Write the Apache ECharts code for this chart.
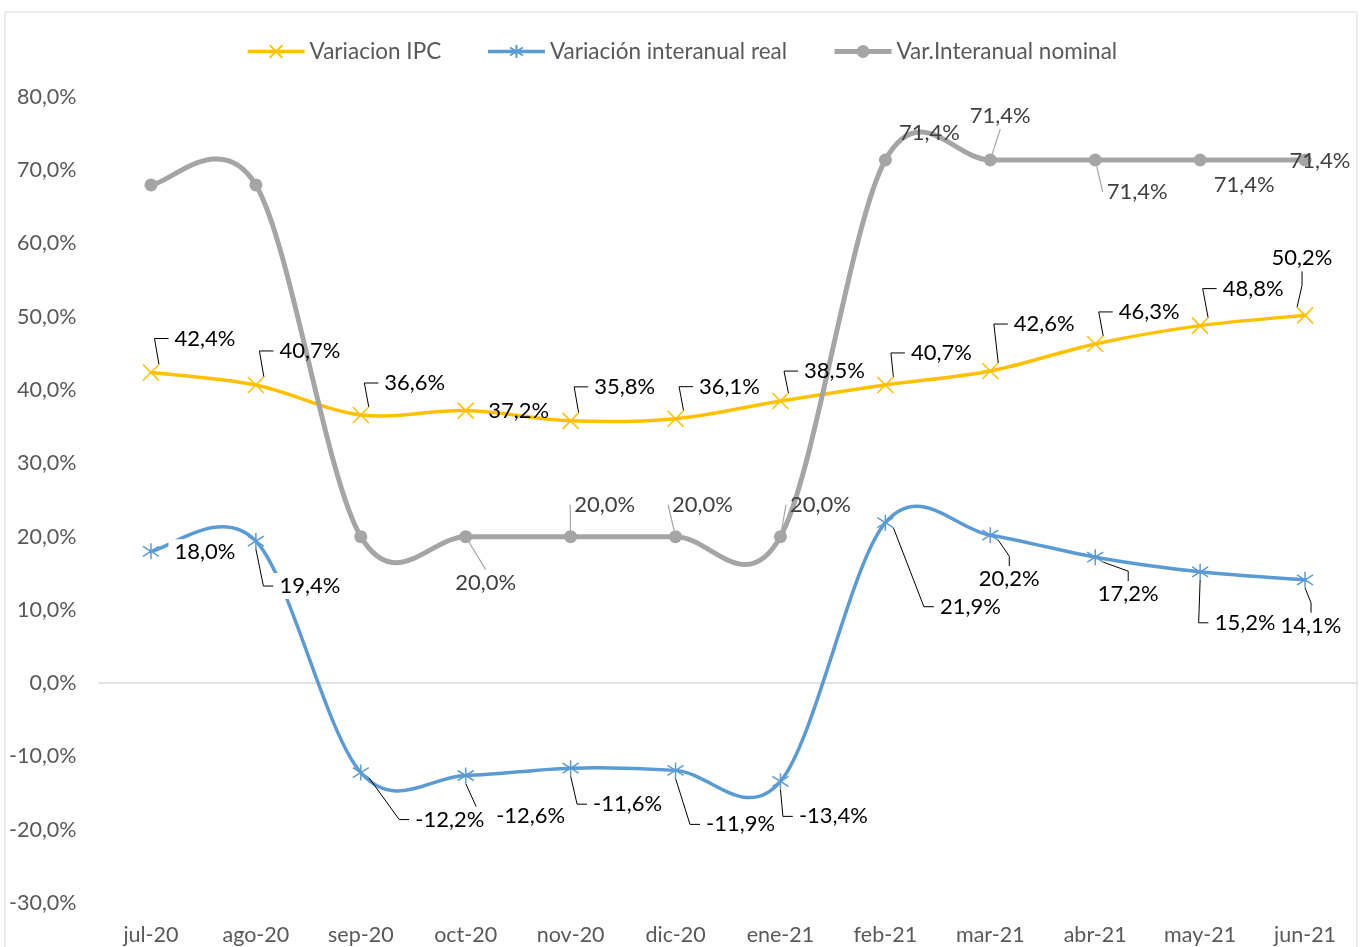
<!DOCTYPE html>
<html lang="es">
<head>
  <meta charset="UTF-8">
  <title>Variación interanual</title>
  <style>
    html, body { margin: 0; padding: 0; background: #fff; }
    #chart { width: 1363px; height: 947px; }
  </style>
  <script src="https://cdn.jsdelivr.net/npm/echarts@6/dist/echarts.min.js"></script>
</head>
<body>
  <div id="chart"></div>
  <script>
    // datos
    const meses = ['jul-20', 'ago-20', 'sep-20', 'oct-20', 'nov-20', 'dic-20',
                   'ene-21', 'feb-21', 'mar-21', 'abr-21', 'may-21', 'jun-21'];
    const ipc = [42.4, 40.7, 36.6, 37.2, 35.8, 36.1, 38.5, 40.7, 42.6, 46.3, 48.8, 50.2];
    const real = [18.0, 19.4, -12.2, -12.6, -11.6, -11.9, -13.4, 21.9, 20.2, 17.2, 15.2, 14.1];
    const nominal = [68.0, 68.0, 20.0, 20.0, 20.0, 20.0, 20.0, 71.4, 71.4, 71.4, 71.4, 71.4];
    const nombres = ['Variacion IPC', 'Variación interanual real', 'Var.Interanual nominal'];

    // posicion de etiquetas (centro de la etiqueta respecto del punto, px)
    const ipcOff = [[54,-34],[54,-34],[54,-32],[53,0],[54,-34],[54,-32],[54,-30],[56,-32],[54,-47],[54,-32],[53,-37],[-3,-57]];
    const ipcGuia = [1,1,1,0,1,1,1,1,1,1,1,1];
    const realOff = [[54,1],[54,45],[89,47],[65,40],[57,36],[65,54],[53,35],[85,84],[19,44],[33,37],[45,51],[6,46]];
    const realGuia = [0,1,1,1,1,1,1,1,1,1,1,1];
    const nomOff = [[0,0],[0,0],[0,0],[20,46],[34,-32],[27,-32],[40,-32],[44,-27],[10,-44],[42,32],[44,25],[15,1]];
    const nomGuia = [0,0,0,1,1,1,1,0,1,1,0,0];
    const nomVisible = [0,0,0,1,1,1,1,1,1,1,1,1];

    const pct = v => v.toFixed(1).replace('.', ',') + '%';
    const fuente = 'Lato, "Liberation Sans", sans-serif';

    function items(vals, guia, visible) {
      return vals.map((v, i) => ({
        value: v,
        label: { show: visible ? !!visible[i] : true },
        labelLine: { show: !!guia[i] }
      }));
    }
    function layout(off) {
      return p => ({ dx: off[p.dataIndex][0], dy: off[p.dataIndex][1] });
    }

    // curva suavizada al estilo Excel (Catmull-Rom) sobre las coordenadas del eje
    function curva(id, vals, color, width) {
      return {
        type: 'custom',
        name: id,
        silent: true,
        data: vals.map((v, i) => [i, v]),
        encode: { x: 0, y: 1 },
        renderItem: function (params, api) {
          if (params.dataIndex !== 0) return null;
          const p = vals.map((v, i) => api.coord([i, v]));
          const n = p.length;
          let d = 'M' + p[0][0] + ',' + p[0][1];
          for (let i = 0; i < n - 1; i++) {
            const a = p[Math.max(i - 1, 0)], b = p[i], c = p[i + 1], e = p[Math.min(i + 2, n - 1)];
            const c1x = b[0] + (c[0] - a[0]) / 6, c1y = b[1] + (c[1] - a[1]) / 6;
            const c2x = c[0] - (e[0] - b[0]) / 6, c2y = c[1] - (e[1] - b[1]) / 6;
            d += 'C' + c1x + ',' + c1y + ',' + c2x + ',' + c2y + ',' + c[0] + ',' + c[1];
          }
          return {
            type: 'path',
            shape: { pathData: d },
            style: { fill: 'none', stroke: color, lineWidth: width, lineCap: 'round', lineJoin: 'round' }
          };
        }
      };
    }

    const chart = echarts.init(document.getElementById('chart'));
    const option = {
      animation: false,
      textStyle: { fontFamily: fuente },
      graphic: [{
        type: 'rect', silent: true,
        shape: { x: 5, y: 12, width: 1352, height: 960 },
        style: { fill: 'none', stroke: '#D9D9D9', lineWidth: 1 }
      }],
      legend: {
        top: 35,
        left: 'center',
        itemWidth: 57,
        itemHeight: 16,
        itemGap: 45,
        textStyle: { color: '#595959', fontSize: 22.5, fontFamily: fuente },
        data: [
          { name: nombres[0], lineStyle: { opacity: 1, width: 3.5 } },
          { name: nombres[1], lineStyle: { opacity: 1, width: 3.5 } },
          { name: nombres[2], lineStyle: { opacity: 1, width: 5 } }
        ]
      },
      grid: { left: 98.5, right: 5.5, top: 97, bottom: 44, containLabel: false, outerBoundsMode: 'none' },
      xAxis: {
        type: 'category',
        data: meses,
        boundaryGap: true,
        axisLine: { show: false },
        axisTick: { show: false },
        axisLabel: { color: '#595959', fontSize: 21.5, margin: 21, fontFamily: fuente }
      },
      yAxis: {
        type: 'value',
        min: -30, max: 80, interval: 10,
        axisLine: { show: false },
        axisTick: { show: false },
        axisLabel: { color: '#595959', fontSize: 21.5, margin: 22, formatter: v => pct(v), fontFamily: fuente },
        splitLine: {
          show: true,
          lineStyle: {
            width: 1.5,
            color: ['rgba(0,0,0,0)', 'rgba(0,0,0,0)', 'rgba(0,0,0,0)', '#D9D9D9',
                    'rgba(0,0,0,0)', 'rgba(0,0,0,0)', 'rgba(0,0,0,0)', 'rgba(0,0,0,0)',
                    'rgba(0,0,0,0)', 'rgba(0,0,0,0)', 'rgba(0,0,0,0)', 'rgba(0,0,0,0)']
          }
        }
      },
      series: [
        curva('_ipc', ipc, '#FFC000', 3.5),
        {
          name: nombres[0],
          type: 'line',
          data: items(ipc, ipcGuia),
          symbol: 'path://M0,0L16,16M16,0L0,16',
          symbolSize: 16,
          itemStyle: { color: '#FFC000', borderColor: '#FFC000', borderWidth: 1.5 },
          lineStyle: { color: '#FFC000', width: 3.5, opacity: 0 },
          label: {
            position: 'inside', color: '#000', fontSize: 22, padding: [2, 6],
            backgroundColor: 'rgba(255,255,255,0)', formatter: p => pct(p.value)
          },
          labelLine: { show: true, length2: 14, lineStyle: { color: '#000', width: 1 } },
          labelLayout: layout(ipcOff)
        },
        curva('_real', real, '#5B9BD5', 3.5),
        {
          name: nombres[1],
          type: 'line',
          data: items(real, realGuia),
          symbol: 'path://M8,0L8,16M1,3L15,13M15,3L1,13',
          symbolSize: 16,
          itemStyle: { color: '#5B9BD5', borderColor: '#5B9BD5', borderWidth: 1.5 },
          lineStyle: { color: '#5B9BD5', width: 3.5, opacity: 0 },
          label: {
            position: 'inside', color: '#000', fontSize: 22, formatter: p => pct(p.value),
            backgroundColor: '#fff', padding: [2, 6]
          },
          labelLine: { show: true, length2: 10, lineStyle: { color: '#000', width: 1 } },
          labelLayout: layout(realOff)
        },
        curva('_nom', nominal, '#A5A5A5', 5),
        {
          name: nombres[2],
          type: 'line',
          data: items(nominal, nomGuia, nomVisible),
          symbol: 'circle',
          symbolSize: 13,
          itemStyle: { color: '#A5A5A5' },
          lineStyle: { color: '#A5A5A5', width: 5, opacity: 0 },
          label: {
            position: 'inside', color: '#404040', fontSize: 22, padding: [2, 4],
            backgroundColor: 'rgba(255,255,255,0)', formatter: p => pct(p.value)
          },
          labelLine: { show: true, length2: 0, lineStyle: { color: '#A5A5A5', width: 1.2 } },
          labelLayout: layout(nomOff)
        }
      ]
    };
    chart.setOption(option);
  </script>
</body>
</html>
